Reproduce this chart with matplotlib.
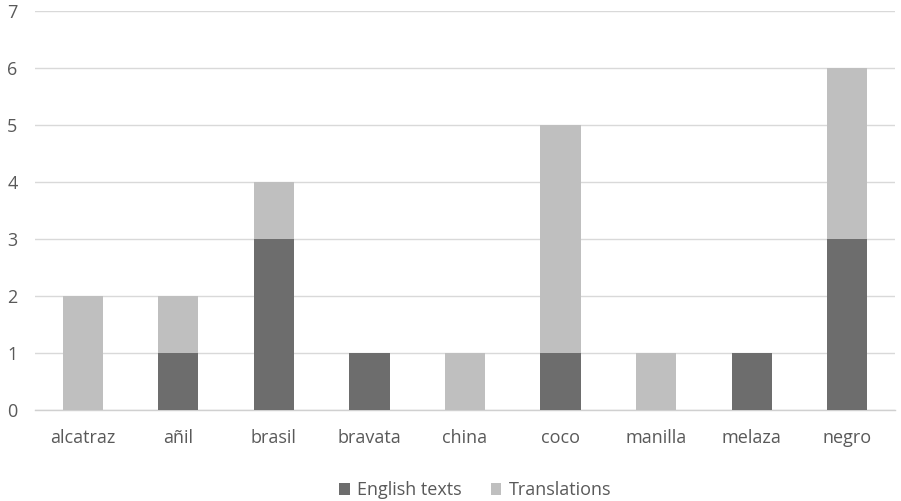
import numpy as np
import matplotlib.pyplot as plt

plt.rcParams['font.family'] = ['Open Sans', 'DejaVu Sans']

words = ['alcatraz', 'añil', 'brasil', 'bravata', 'china', 'coco', 'manilla', 'melaza', 'negro']
english_texts = [0, 1, 3, 1, 0, 1, 0, 1, 3]
translations = [2, 1, 1, 0, 1, 4, 1, 0, 3]

dark = '#6d6d6d'
light = '#bfbfbf'
text_color = '#595959'

fig = plt.figure(figsize=(9.01, 5.01), dpi=100)
ax = fig.add_axes([35 / 901, 1 - 410 / 501, 860 / 901, 399 / 501])

x = np.arange(len(words))
w = 0.42
ax.bar(x, english_texts, w, color=dark, label='English texts', zorder=3)
ax.bar(x, translations, w, bottom=english_texts, color=light, label='Translations', zorder=3)

ax.set_xlim(-0.5, len(words) - 0.5)
ax.set_ylim(0, 7)
ax.set_yticks(range(0, 8))
ax.set_xticks(x)
ax.set_xticklabels(words)
ax.yaxis.grid(True, color='#d9d9d9', linewidth=1, zorder=0)
ax.set_axisbelow(True)

for side in ['top', 'right', 'left']:
    ax.spines[side].set_visible(False)
ax.spines['bottom'].set_color('#d0d0d0')
ax.spines['bottom'].set_linewidth(1)

ax.tick_params(axis='both', length=0, labelsize=13, colors=text_color)
ax.tick_params(axis='y', pad=20)
ax.tick_params(axis='x', pad=14)
for lbl in ax.get_yticklabels():
    lbl.set_horizontalalignment('left')

fig.legend(loc='lower center', bbox_to_anchor=(475 / 901, -0.029), ncol=2, frameon=False,
           fontsize=13, handlelength=0.6, handleheight=0.6, handletextpad=0.4,
           columnspacing=1.6, labelcolor=text_color)

fig.savefig('out.png', dpi=100, facecolor='white')
